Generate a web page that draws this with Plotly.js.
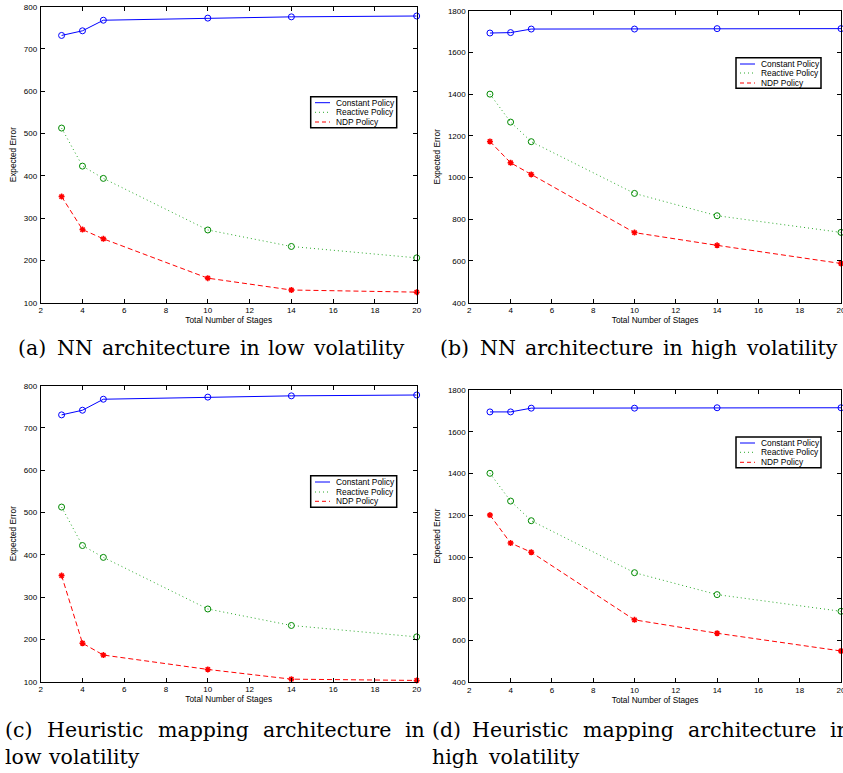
<!DOCTYPE html>
<html>
<head>
<meta charset="utf-8">
<script src="https://cdn.plot.ly/plotly-3.0.1.min.js"></script>
<style>
html,body{margin:0;padding:0;background:#fff;}
#chart{width:843px;height:773px;}
</style>
</head>
<body>
<div id="chart"></div>
<script>
// ---- data ----
const stages = [3, 4, 5, 10, 14, 20];
const seriesNames = ["Constant Policy", "Reactive Policy", "NDP Policy"];

// (a) NN architecture, low volatility
const a_constant = [732, 743, 768, 773, 776, 778];
const a_reactive = [513, 423, 394, 272, 233, 206];
const a_ndp      = [351, 273, 251, 158, 130, 125];

// (b) NN architecture, high volatility
const b_constant = [1693, 1695, 1712, 1712, 1714, 1714];
const b_reactive = [1400, 1266, 1172, 924, 817, 737];
const b_ndp      = [1173, 1071, 1015, 736, 675, 588];

// (c) Heuristic mapping, low volatility
const c_constant = [731, 742, 768, 773, 776, 778];
const c_reactive = [513, 422, 394, 272, 233, 206];
const c_ndp      = [351, 191, 163, 129, 106, 103];

// (d) Heuristic mapping, high volatility
const d_constant = [1695, 1695, 1713, 1713, 1715, 1715];
const d_reactive = [1401, 1268, 1174, 925, 820, 740];
const d_ndp      = [1201, 1067, 1023, 699, 635, 550];

const xTicks = [2, 4, 6, 8, 10, 12, 14, 16, 18, 20];
const yTicksLow  = [100, 200, 300, 400, 500, 600, 700, 800];
const yTicksHigh = [400, 600, 800, 1000, 1200, 1400, 1600, 1800];

const xTitle = "Total Number of Stages";
const yTitle = "Expected Error";

// caption words (typeset word by word, like the justified LaTeX captions)
const capA  = ["(a)", "NN", "architecture", "in", "low", "volatility"];
const capB  = ["(b)", "NN", "architecture", "in", "high", "volatility"];
const capC1 = ["(c)", "Heuristic", "mapping", "architecture", "in"];
const capC2 = ["low", "volatility"];
const capD1 = ["(d)", "Heuristic", "mapping", "architecture", "in"];
const capD2 = ["high", "volatility"];

// ---- styles ----
const styles = [
  {line:{color:"#0000ff", width:1, dash:"solid"}, marker:{symbol:"circle-open", size:6, color:"#0000ff", line:{width:1, color:"#0000ff"}}},
  {line:{color:"#2aa82a", width:1, dash:"1px,3px"}, marker:{symbol:"circle-open", size:6, color:"#008a00", line:{width:1, color:"#008a00"}}},
  {line:{color:"#ff0000", width:1, dash:"5px,3px"}, marker:{symbol:"asterisk-open", size:5, color:"#ff0000", line:{width:1.5, color:"#ff0000"}}}
];

const panels = [
  {data:[a_constant, a_reactive, a_ndp], xa:"x",  ya:"y"},
  {data:[b_constant, b_reactive, b_ndp], xa:"x2", ya:"y2"},
  {data:[c_constant, c_reactive, c_ndp], xa:"x3", ya:"y3"},
  {data:[d_constant, d_reactive, d_ndp], xa:"x4", ya:"y4"}
];

const traces = [];
panels.forEach(p => {
  p.data.forEach((vals, i) => {
    traces.push({
      x: stages, y: vals, xaxis: p.xa, yaxis: p.ya,
      type: "scatter", mode: "lines+markers",
      name: seriesNames[i], showlegend: false,
      line: styles[i].line, marker: styles[i].marker, cliponaxis: false
    });
  });
});

const W = 843, H = 773;
const fx = v => v / W;
const fy = v => 1 - v / H;
const sansFont = "Liberation Sans, Arial, Helvetica, sans-serif";

function xAxis(domain, anchor) {
  return {
    domain: domain, anchor: anchor, range: [2, 20], tickvals: xTicks,
    ticks: "inside", ticklen: 4, tickcolor: "#000", tickwidth: 1,
    showline: true, linecolor: "#000", linewidth: 1, mirror: "allticks",
    showgrid: false, zeroline: false, ticklabeloverflow: "allow",
    tickfont: {family: sansFont, size: 8, color: "#000"},
    ticklabelstandoff: 0,
    title: {text: xTitle, font: {family: sansFont, size: 8.3, color: "#000"}, standoff: 1}
  };
}
function yAxis(domain, anchor, range, ticks) {
  return {
    domain: domain, anchor: anchor, range: range, tickvals: ticks,
    ticks: "inside", ticklen: 4, tickcolor: "#000", tickwidth: 1,
    showline: true, linecolor: "#000", linewidth: 1, mirror: "allticks",
    showgrid: false, zeroline: false,
    tickfont: {family: sansFont, size: 8, color: "#000"},
    ticklabelstandoff: 1,
    title: {text: yTitle, font: {family: sansFont, size: 8.3, color: "#000"}, standoff: 5}
  };
}

const shapes = [];
const annotations = [];

// hand-drawn legend boxes (MATLAB style)
function legendBox(x0, x1, y0, y1, rowYs, lineX0, lineX1, textX) {
  shapes.push({type: "rect", xref: "paper", yref: "paper", x0: fx(x0), x1: fx(x1), y0: fy(y1), y1: fy(y0),
    line: {color: "#000", width: 1.5}, fillcolor: "#fff", layer: "above"});
  seriesNames.forEach((nm, i) => {
    shapes.push({type: "line", xref: "paper", yref: "paper", x0: fx(lineX0), x1: fx(lineX1), y0: fy(rowYs[i]), y1: fy(rowYs[i]),
      line: {color: styles[i].line.color, width: 1, dash: i === 0 ? "solid" : (i === 1 ? "1px,3px" : "4px,3px")}, layer: "above"});
    annotations.push({text: nm, xref: "paper", yref: "paper", x: fx(textX), y: fy(rowYs[i]), xanchor: "left", yanchor: "middle",
      showarrow: false, font: {family: sansFont, size: 8.4, color: "#000"}});
  });
}
legendBox(310.7, 396.7, 96.7, 127.7, [102.7, 112.3, 122], 315, 330, 333.5);
legendBox(736, 821, 57.7, 88.3, [64, 73, 83], 740, 755, 758.5);
legendBox(310.7, 396.7, 475.7, 507.3, [482, 492, 501.3], 315, 330, 333.5);
legendBox(736, 821, 437, 467.7, [443, 452.3, 462.3], 740, 755, 758.5);

// captions
const capFont = {family: "DejaVu Serif, serif", size: 20.5, color: "#000"};
function caption(words, xs, y) {
  words.forEach((w, i) => {
    annotations.push({text: w, xref: "paper", yref: "paper", x: fx(xs[i]), y: fy(y), xanchor: "left", yanchor: "middle",
      showarrow: false, font: capFont});
  });
}
caption(capA,  [16, 55, 100, 238, 266, 311], 348);
caption(capB,  [438, 478, 523, 661, 689, 744], 348);
caption(capC1, [3, 45, 156, 261, 403], 730);
caption(capC2, [3, 46], 757);
caption(capD1, [430, 470, 581, 686, 828], 730);
caption(capD2, [430, 486], 757);

const layout = {
  width: W, height: H,
  margin: {l: 0, r: 0, t: 0, b: 0},
  paper_bgcolor: "#fff", plot_bgcolor: "#fff",
  showlegend: false,
  xaxis:  xAxis([fx(40.7), fx(416.7)], "y"),
  yaxis:  yAxis([fy(302.7), fy(6.7)], "x", [100, 800], yTicksLow),
  xaxis2: xAxis([fx(469.3), fx(841)], "y2"),
  yaxis2: yAxis([fy(302.7), fy(10.7)], "x2", [400, 1800], yTicksHigh),
  xaxis3: xAxis([fx(40.7), fx(416.7)], "y3"),
  yaxis3: yAxis([fy(681.7), fy(385.7)], "x3", [100, 800], yTicksLow),
  xaxis4: xAxis([fx(469.3), fx(841)], "y4"),
  yaxis4: yAxis([fy(682.3), fy(390)], "x4", [400, 1800], yTicksHigh),
  shapes: shapes,
  annotations: annotations
};

Plotly.newPlot("chart", traces, layout, {displayModeBar: false, staticPlot: true});
</script>
</body>
</html>
